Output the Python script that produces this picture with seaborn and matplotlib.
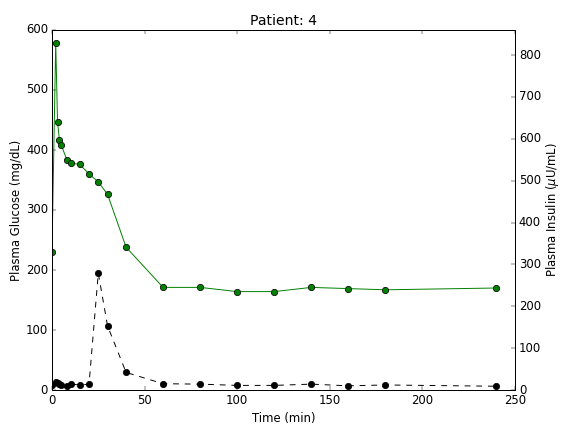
import matplotlib
matplotlib.use("Agg")
import matplotlib.pyplot as plt
import seaborn as sns
import pandas as pd

# Data
glucose_time = [0, 2, 3, 4, 5, 8, 10, 15, 20, 25, 30, 40, 60, 80, 100, 120, 140, 160, 180, 240]
glucose = [230, 579, 446, 417, 408, 384, 378, 376, 360, 347, 326, 238, 171, 171, 164, 164, 171, 169, 167, 170]

insulin_time = [0, 2, 3, 4, 5, 8, 10, 15, 20, 25, 30, 40, 60, 80, 100, 120, 140, 160, 180, 240]
insulin = [12, 20, 17, 14, 12, 10, 14, 12, 14, 279, 153, 42, 15, 14, 11, 11, 14, 10, 12, 9]

title = "Patient: 4"
xlabel = "Time (min)"
ylabel_left = "Plasma Glucose (mg/dL)"
ylabel_right = r"Plasma Insulin ($\mu$U/mL)"

plt.style.use("classic")
plt.rcParams["figure.facecolor"] = "white"
plt.rcParams["savefig.facecolor"] = "white"
plt.rcParams["mathtext.fontset"] = "dejavusans"
plt.rcParams["font.family"] = ["DejaVu Sans"]

gdf = pd.DataFrame({"t": glucose_time, "g": glucose})
idf = pd.DataFrame({"t": insulin_time, "i": insulin})

fig = plt.figure(figsize=(561 / 70, 425 / 70), dpi=70)
ax = fig.add_axes([52 / 561, 35 / 425, (515 - 52) / 561, (390 - 30) / 425])

sns.lineplot(data=gdf, x="t", y="g", ax=ax, color="g", marker="o",
             markerfacecolor="g", markeredgecolor="k", markersize=6.5,
             linewidth=1.0, estimator=None, sort=False)
ax.set_xlim(0, 250)
ax.set_ylim(0, 600)
ax.set_xticks([0, 50, 100, 150, 200, 250])
ax.set_yticks([0, 100, 200, 300, 400, 500, 600])
ax.set_xlabel(xlabel)
ax.set_ylabel(ylabel_left, labelpad=3)
ax.set_title(title)

ax2 = ax.twinx()
sns.lineplot(data=idf, x="t", y="i", ax=ax2, color="k", marker="o",
             markerfacecolor="k", markeredgecolor="k", markersize=6.5,
             linewidth=1.0, linestyle="--", estimator=None, sort=False)
ax2.set_ylim(0, 860)
ax2.set_yticks([0, 100, 200, 300, 400, 500, 600, 700, 800])
ax2.set_ylabel(ylabel_right, labelpad=2.5)
ax2.set_xlim(0, 250)

fig.savefig("out.png", dpi=70)
